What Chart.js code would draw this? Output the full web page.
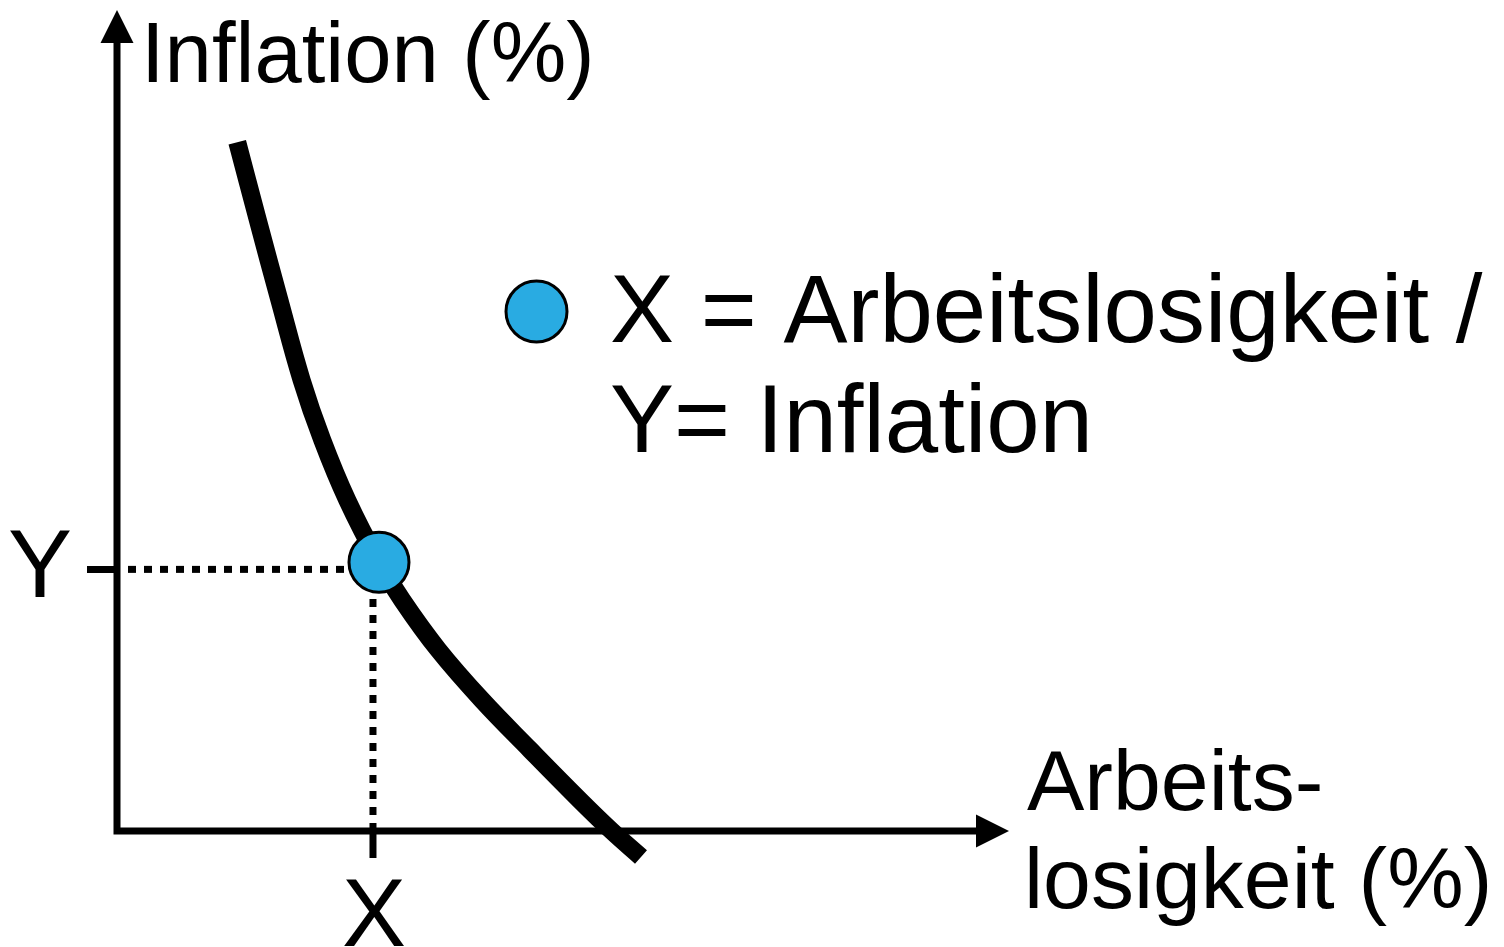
<!DOCTYPE html>
<html>
<head>
	<meta charset="utf-8">
	<title>Phillips-Kurve</title>
	<script src="https://cdn.jsdelivr.net/npm/chart.js@4.4.1/dist/chart.umd.min.js"></script>
	<style>
		body { margin: 0; background: #fff; }
		#wrap { width: 1504px; height: 947px; }
	</style>
</head>
<body>
	<div id="wrap">
		<canvas id="chart"></canvas>
	</div>

	<script type="text/javascript">

		// curve (axis range 0..10 on both sides)
		var curveX = [1.40, 1.64, 1.89, 2.15, 2.39, 2.68, 3.05, 3.32, 3.74, 4.25, 4.81, 5.39, 5.76, 6.10];
		var curveY = [8.74, 7.75, 6.74, 5.72, 4.96, 4.20, 3.41, 2.93, 2.30, 1.66, 1.03, 0.39, 0.00, -0.33];

		// the marked point and its guide lines / ticks
		var pointX = [3.05];
		var pointY = [3.41];
		var tickXValues = [2.98];
		var tickYValues = [3.32];
		var tickXLabels = ['X'];
		var tickYLabels = ['Y'];

		var yTitle = 'Inflation (%)';
		var xTitle = ['Arbeits-', 'losigkeit (%)'];
		var legendLines = ['X = Arbeitslosigkeit /', 'Y= Inflation'];

		var pointColor = '#29ABE2';
		var fontFamily = '"Liberation Sans", Arial, Helvetica, sans-serif';

		function toPoints(xs, ys) {
			return xs.map(function(x, i) { return {x: x, y: ys[i]}; });
		}

		var axesPlugin = {
			id: 'phillipsAxes',
			beforeDatasetsDraw: function(chart) {
				var ctx = chart.ctx;
				var sx = chart.scales.x, sy = chart.scales.y;
				var x0 = sx.getPixelForValue(sx.min), x1 = sx.getPixelForValue(sx.max);
				var y0 = sy.getPixelForValue(sy.min), y1 = sy.getPixelForValue(sy.max);
				ctx.save();
				ctx.strokeStyle = '#000';
				ctx.fillStyle = '#000';
				ctx.lineWidth = 7;
				ctx.lineCap = 'butt';
				// axes
				ctx.beginPath();
				ctx.moveTo(x0, y0 + 3.5);
				ctx.lineTo(x0, y1);
				ctx.moveTo(x0 - 3.5, y0);
				ctx.lineTo(x1, y0);
				ctx.stroke();
				// arrow heads
				ctx.beginPath();
				ctx.moveTo(x0, y1 - 33);
				ctx.lineTo(x0 - 16.5, y1);
				ctx.lineTo(x0 + 16.5, y1);
				ctx.closePath();
				ctx.fill();
				ctx.beginPath();
				ctx.moveTo(x1 + 33, y0);
				ctx.lineTo(x1, y0 - 16.5);
				ctx.lineTo(x1, y0 + 16.5);
				ctx.closePath();
				ctx.fill();
				// tick marks
				ctx.beginPath();
				tickYValues.forEach(function(v) {
					var p = sy.getPixelForValue(v);
					ctx.moveTo(x0 - 30, p);
					ctx.lineTo(x0, p);
				});
				tickXValues.forEach(function(v) {
					var p = sx.getPixelForValue(v);
					ctx.moveTo(p, y0);
					ctx.lineTo(p, y0 + 27);
				});
				ctx.stroke();
				ctx.restore();
			},
			afterDraw: function(chart) {
				var ctx = chart.ctx;
				var sx = chart.scales.x, sy = chart.scales.y;
				var x0 = sx.getPixelForValue(sx.min);
				var y0 = sy.getPixelForValue(sy.min);
				ctx.save();
				ctx.fillStyle = '#000';
				ctx.textBaseline = 'alphabetic';

				// tick labels
				ctx.font = '96px ' + fontFamily;
				ctx.textAlign = 'right';
				tickYValues.forEach(function(v, i) {
					ctx.fillText(tickYLabels[i], x0 - 45, sy.getPixelForValue(v) + 28);
				});
				ctx.textAlign = 'center';
				tickXValues.forEach(function(v, i) {
					ctx.fillText(tickXLabels[i], sx.getPixelForValue(v) + 1, y0 + 115);
				});

				// axis titles
				ctx.textAlign = 'left';
				ctx.font = '85px ' + fontFamily;
				ctx.fillText(yTitle, 141, 82);
				ctx.font = '86px ' + fontFamily;
				ctx.fillText(xTitle[0], 1027, 810);
				ctx.fillText(xTitle[1], 1024, 908);

				// legend
				ctx.beginPath();
				ctx.arc(536.5, 311.5, 30.5, 0, Math.PI * 2);
				ctx.fillStyle = pointColor;
				ctx.fill();
				ctx.lineWidth = 3;
				ctx.strokeStyle = '#000';
				ctx.stroke();
				ctx.fillStyle = '#000';
				ctx.font = '96px ' + fontFamily;
				ctx.fillText(legendLines[0], 610, 342);
				ctx.fillText(legendLines[1], 610, 452);
				ctx.restore();
			}
		};

		var config = {
			type: 'scatter',
			data: {
				datasets: [
					{
						label: 'Punkt',
						data: toPoints(pointX, pointY),
						backgroundColor: pointColor,
						borderColor: '#000',
						borderWidth: 3,
						pointRadius: 30,
						pointHoverRadius: 30,
						clip: false,
						order: 0
					},
					{
						label: 'Phillips-Kurve',
						data: toPoints(curveX, curveY),
						showLine: true,
						borderColor: '#000',
						borderWidth: 18,
						borderCapStyle: 'butt',
						borderJoinStyle: 'round',
						tension: 0.4,
						pointRadius: 0,
						clip: false,
						order: 1
					},
					{
						label: 'Hilfslinie Y',
						data: [{x: 0, y: tickYValues[0]}, {x: tickXValues[0], y: tickYValues[0]}],
						showLine: true,
						borderColor: '#000',
						borderWidth: 7,
						borderDash: [8, 8],
						borderDashOffset: 5,
						borderCapStyle: 'butt',
						pointRadius: 0,
						clip: false,
						order: 2
					},
					{
						label: 'Hilfslinie X',
						data: [{x: tickXValues[0], y: 0}, {x: tickXValues[0], y: tickYValues[0]}],
						showLine: true,
						borderColor: '#000',
						borderWidth: 7,
						borderDash: [8, 8],
						borderCapStyle: 'butt',
						pointRadius: 0,
						clip: false,
						order: 2
					}
				]
			},
			options: {
				responsive: true,
				maintainAspectRatio: false,
				animation: false,
				layout: {
					padding: {left: 117, right: 528, top: 43, bottom: 116}
				},
				plugins: {
					legend: {display: false},
					tooltip: {enabled: false}
				},
				scales: {
					x: {type: 'linear', min: 0, max: 10, display: false},
					y: {type: 'linear', min: 0, max: 10, display: false}
				}
			},
			plugins: [axesPlugin]
		};

		var ctx = document.getElementById('chart').getContext('2d');
		var chart = new Chart(ctx, config);

	</script>
</body>
</html>
